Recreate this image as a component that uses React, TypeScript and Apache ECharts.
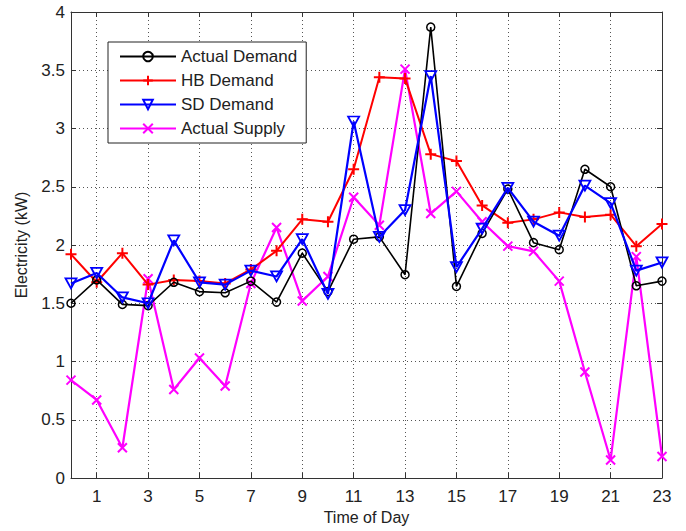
import React, { useEffect, useRef } from "react";
import * as echarts from "echarts";

const hours = ["0","1","2","3","4","5","6","7","8","9","10","11","12","13","14","15","16","17","18","19","20","21","22","23"];
const actualDemand = [1.5, 1.7, 1.49, 1.48, 1.68, 1.6, 1.59, 1.69, 1.51, 1.93, 1.6, 2.05, 2.07, 1.745, 3.87, 1.645, 2.1, 2.48, 2.02, 1.96, 2.65, 2.5, 1.65, 1.69];
const hbDemand = [1.92, 1.68, 1.93, 1.66, 1.7, 1.69, 1.67, 1.79, 1.95, 2.22, 2.2, 2.65, 3.44, 3.43, 2.78, 2.72, 2.34, 2.19, 2.22, 2.28, 2.24, 2.26, 1.99, 2.18];
const sdDemand = [1.67, 1.76, 1.55, 1.5, 2.04, 1.68, 1.66, 1.78, 1.73, 2.05, 1.58, 3.06, 2.07, 2.3, 3.45, 1.81, 2.14, 2.49, 2.2, 2.08, 2.51, 2.36, 1.78, 1.85];
const actualSupply = [0.84, 0.67, 0.26, 1.71, 0.76, 1.03, 0.79, 1.67, 2.15, 1.52, 1.73, 2.41, 2.17, 3.51, 2.27, 2.46, 2.2, 1.99, 1.945, 1.69, 0.91, 0.155, 1.9, 0.185];
const seriesNames = ["Actual Demand", "HB Demand", "SD Demand", "Actual Supply"];

const FONT = "'Liberation Sans', Arial, sans-serif";
const TXT = "#222";
const AX = "#333";
const FS = 17;
const oddIdx = (i: number) => i % 2 === 1;

export default function App() {
  const ref = useRef<HTMLDivElement>(null);
  useEffect(() => {
    if (!ref.current) return;
    const chart = echarts.init(ref.current, null, { renderer: "svg" });
    const gridLine = { show: true, lineStyle: { type: [1, 3] as any, color: "#555", width: 1 } };
    chart.setOption({
      animation: false,
      backgroundColor: "#fff",
      textStyle: { fontFamily: FONT },
      grid: { left: 71, right: 24, top: 12, bottom: 53 },
      legend: {
        orient: "vertical",
        left: 108,
        top: 42,
        data: seriesNames,
        backgroundColor: "#fff",
        borderColor: "#222",
        borderWidth: 1,
        borderRadius: 0,
        padding: [6, 9, 6, 11],
        itemWidth: 56,
        itemHeight: 12,
        itemGap: 7,
        textStyle: { fontFamily: FONT, fontSize: FS, color: TXT },
      },
      xAxis: [
        {
          type: "category",
          data: hours,
          boundaryGap: false,
          name: "Time of Day",
          nameLocation: "middle",
          nameGap: 31,
          nameTextStyle: { fontFamily: FONT, fontSize: FS - 1, color: TXT },
          axisLine: { lineStyle: { color: AX, width: 1 } },
          axisTick: { inside: true, length: 5, interval: oddIdx, lineStyle: { color: AX } },
          axisLabel: { interval: oddIdx, fontFamily: FONT, fontSize: FS, color: TXT, margin: 10 },
          splitLine: { ...gridLine, interval: oddIdx },
        },
        {
          type: "category",
          data: hours,
          boundaryGap: false,
          position: "top",
          axisLine: { onZero: false, lineStyle: { color: AX, width: 1 } },
          axisTick: { inside: true, length: 5, interval: oddIdx, lineStyle: { color: AX } },
          axisLabel: { show: false },
          splitLine: { show: false },
        },
      ],
      yAxis: [
        {
          type: "value",
          min: 0,
          max: 4,
          interval: 0.5,
          name: "Electricity (kW)",
          nameLocation: "middle",
          nameGap: 42,
          nameTextStyle: { fontFamily: FONT, fontSize: FS - 1, color: TXT },
          axisLine: { show: true, lineStyle: { color: AX, width: 1 } },
          axisTick: { show: true, inside: true, length: 5, lineStyle: { color: AX } },
          axisLabel: { fontFamily: FONT, fontSize: FS, color: TXT, margin: 6 },
          splitLine: gridLine,
        },
        {
          type: "value",
          min: 0,
          max: 4,
          interval: 0.5,
          position: "right",
          axisLine: { show: true, lineStyle: { color: AX, width: 1 } },
          axisTick: { show: true, inside: true, length: 5, lineStyle: { color: AX } },
          axisLabel: { show: false },
          splitLine: { show: false },
        },
      ],
      series: [
        {
          name: seriesNames[0],
          type: "line",
          data: actualDemand,
          symbol: "circle",
          symbolSize: 8,
          z: 4,
          itemStyle: { color: "rgba(0,0,0,0)", borderColor: "#000", borderWidth: 1.5 },
          lineStyle: { color: "#000", width: 1.6 },
        },
        {
          name: seriesNames[1],
          type: "line",
          data: hbDemand,
          symbol: "path://M5,0 L5,10 M0,5 L10,5",
          symbolSize: 11,
          z: 3,
          itemStyle: { color: "#ff0000", borderColor: "#ff0000", borderWidth: 2 },
          lineStyle: { color: "#ff0000", width: 2 },
        },
        {
          name: seriesNames[2],
          type: "line",
          data: sdDemand,
          symbol: "path://M0,0 L10,0 L5,9 Z",
          symbolSize: [11, 10],
          z: 5,
          itemStyle: { color: "rgba(0,0,0,0)", borderColor: "#0000ff", borderWidth: 1.8 },
          lineStyle: { color: "#0000ff", width: 2.2 },
        },
        {
          name: seriesNames[3],
          type: "line",
          data: actualSupply,
          symbol: "path://M0,0 L10,10 M10,0 L0,10",
          symbolSize: 9,
          z: 2,
          itemStyle: { color: "#ff00ff", borderColor: "#ff00ff", borderWidth: 2 },
          lineStyle: { color: "#ff00ff", width: 2.2 },
        },
      ],
    });
    return () => chart.dispose();
  }, []);
  return (
    <div
      ref={ref}
      style={{ position: "absolute", left: 0, top: 0, width: 686, height: 531 }}
    />
  );
}
